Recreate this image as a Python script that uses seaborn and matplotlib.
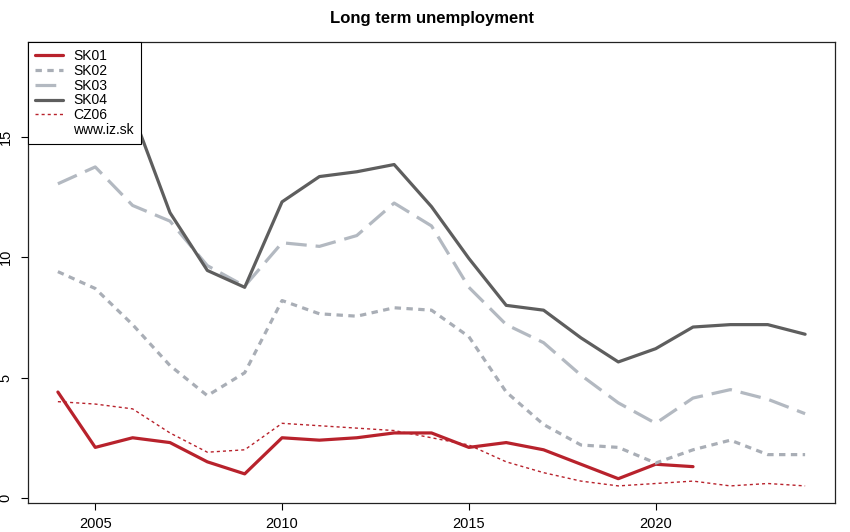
import numpy as np
import pandas as pd
import seaborn as sns
import matplotlib.pyplot as plt
from matplotlib.lines import Line2D

years = list(range(2004, 2025))

# values (% of labour force)
sk01 = [4.4, 2.1, 2.5, 2.3, 1.5, 1.0, 2.5, 2.4, 2.5, 2.7, 2.7, 2.1, 2.3, 2.0, 1.4, 0.8, 1.4, 1.3,
        np.nan, np.nan, np.nan]
sk02 = [9.4, 8.7, 7.2, 5.5, 4.25, 5.2, 8.2, 7.65, 7.55, 7.9, 7.8, 6.7, 4.4, 3.05, 2.2, 2.1, 1.45, 2.0,
        2.4, 1.8, 1.8]
sk03 = [13.05, 13.75, 12.15, 11.5, 9.65, 8.8, 10.6, 10.45, 10.9, 12.25, 11.3, 8.75, 7.2, 6.45, 5.1,
        3.95, 3.1, 4.15, 4.5, 4.1, 3.5]
sk04 = [18.2, 17.3, 16.0, 11.85, 9.45, 8.75, 12.3, 13.35, 13.55, 13.85, 12.1, 9.95, 8.0, 7.8, 6.65,
        5.65, 6.2, 7.1, 7.2, 7.2, 6.8]
cz06 = [4.0, 3.9, 3.7, 2.7, 1.9, 2.0, 3.1, 3.0, 2.9, 2.8, 2.5, 2.2, 1.5, 1.05, 0.7, 0.5, 0.6, 0.7,
        0.5, 0.6, 0.5]

regions = ["SK01", "SK02", "SK03", "SK04", "CZ06"]
colors = ["#B8222C", "#A9AEB6", "#B3B9C1", "#5E5E5E", "#B8222C"]
styles = ["-", (0, (2, 1.7)), (0, (6.5, 2.8)), "-", (0, (2.2, 2.2))]
widths = [2.3, 2.3, 2.3, 2.3, 1.0]

df = pd.DataFrame({"year": years, "SK01": sk01, "SK02": sk02, "SK03": sk03,
                   "SK04": sk04, "CZ06": cz06})

sns.set_theme(style="ticks")
plt.rcParams['font.family'] = ['Liberation Sans', 'DejaVu Sans']
plt.rcParams['text.color'] = 'black'

fig = plt.figure(figsize=(8.5, 5.32), dpi=100)
ax = fig.add_axes([28 / 850, 1 - 503 / 532, (835 - 28) / 850, (503 - 42) / 532])

for reg, c, ls, lw in zip(regions, colors, styles, widths):
    sns.lineplot(data=df, x="year", y=reg, color=c, linestyle=ls, linewidth=lw, ax=ax)

ax.set_xlim(2003.2, 2024.8)
ax.set_ylim(-0.21, 18.94)
ax.set_xticks([2005, 2010, 2015, 2020])
ax.set_yticks([0, 5, 10, 15])
ax.set_xlabel("")
ax.set_ylabel("")
ax.tick_params(axis="both", direction="out", length=5, width=0.8, color="black",
               labelsize=10.5, labelcolor="black")
ax.tick_params(axis="x", pad=5)
ax.tick_params(axis="y", pad=6)
for lab in ax.get_yticklabels():
    lab.set_rotation(90)
    lab.set_va("center")
for sp in ax.spines.values():
    sp.set_visible(True)
    sp.set_color("#222222")
    sp.set_linewidth(0.9)

ax.set_title("Long term unemployment", fontsize=12, fontweight="bold", pad=14)

handles = [Line2D([], [], color=c, linestyle=ls, linewidth=lw)
           for c, ls, lw in zip(colors, styles, widths)]
handles.append(Line2D([], [], color="none"))
leg = ax.legend(handles, regions + ["www.iz.sk"], loc="upper left", bbox_to_anchor=(0, 1),
                borderaxespad=0, frameon=True, fancybox=False, fontsize=10,
                labelspacing=0.06, handlelength=2.0, handletextpad=0.75, borderpad=0.5)
leg.get_frame().set_edgecolor("black")
leg.get_frame().set_linewidth(0.8)
leg.get_frame().set_alpha(1)

fig.savefig("out.png", dpi=100)
